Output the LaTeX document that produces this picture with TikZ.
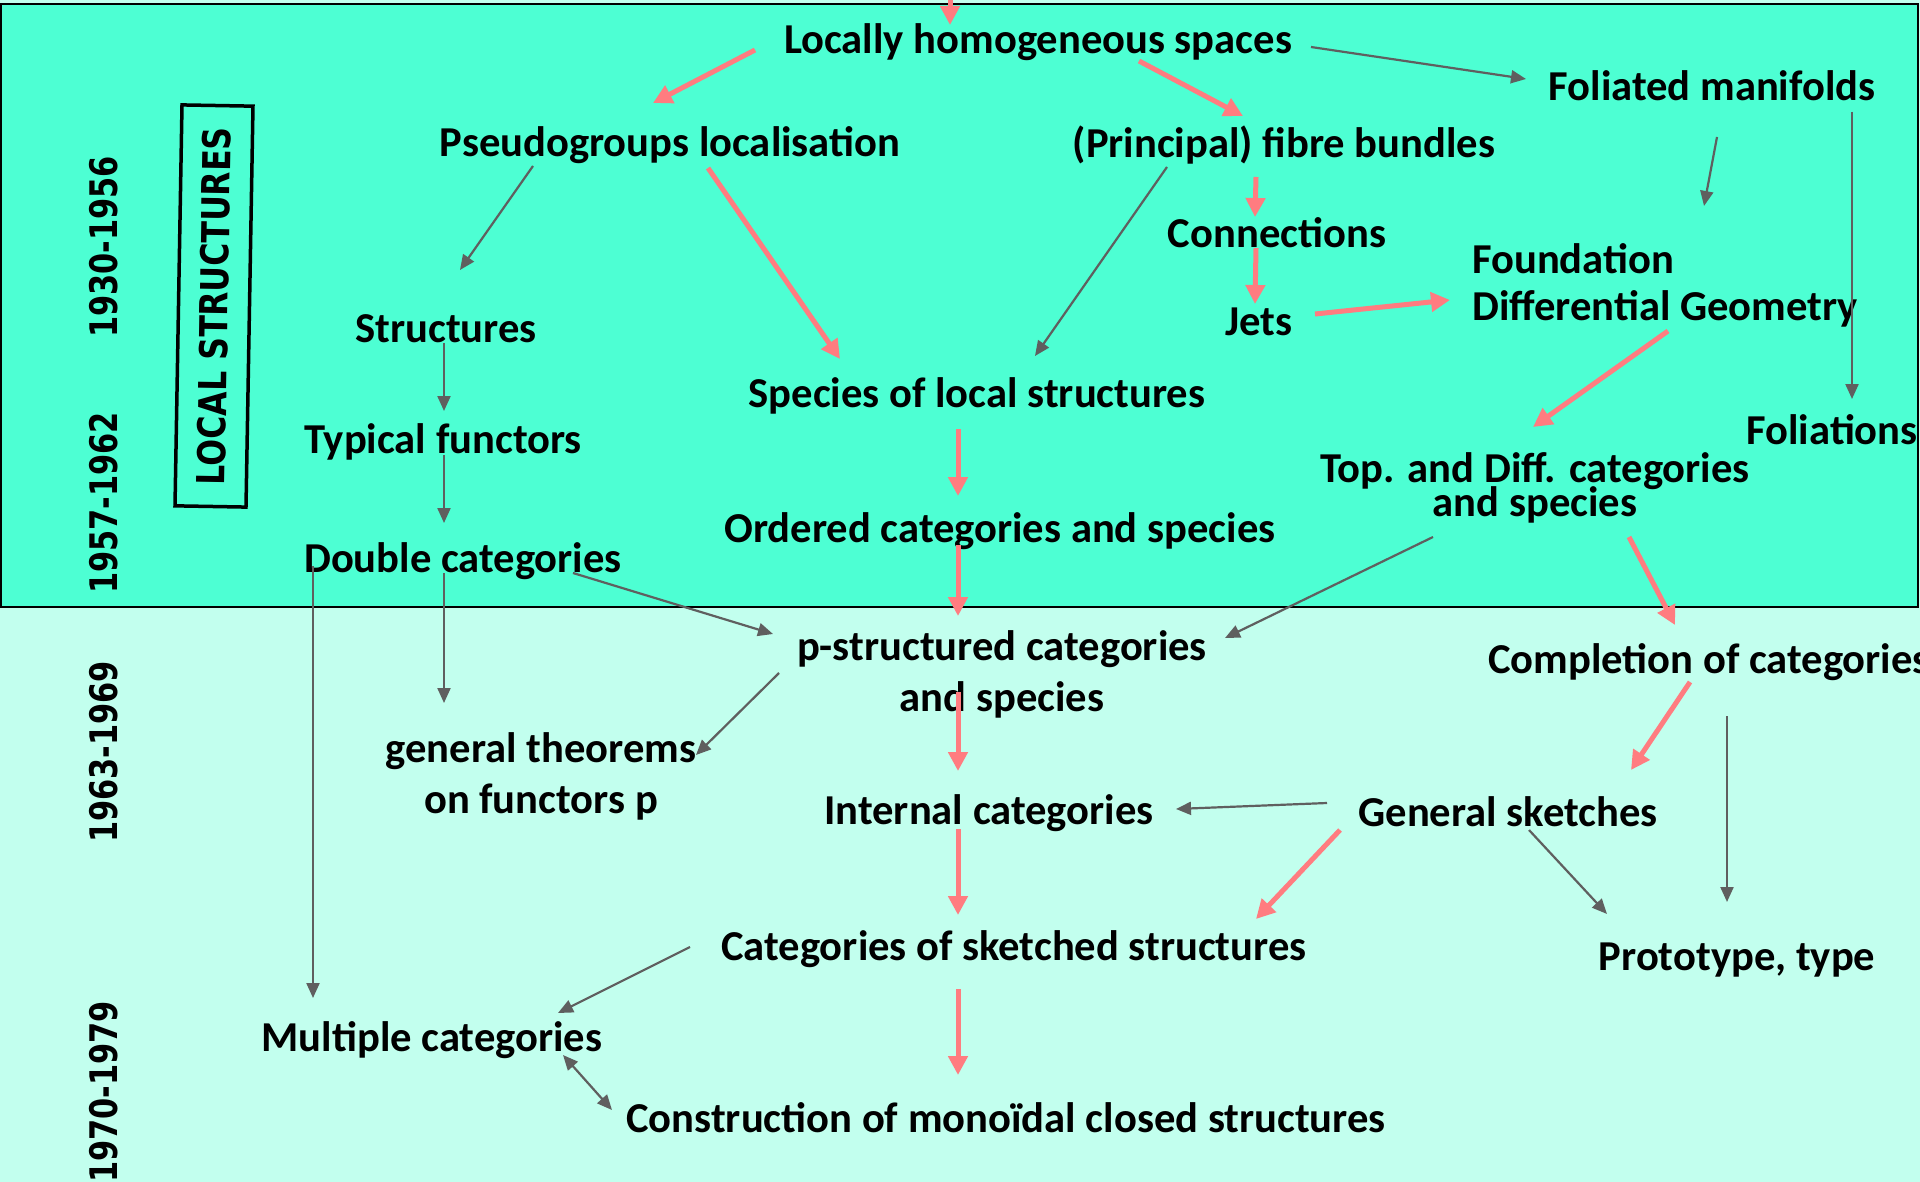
\documentclass[tikz,border=0pt]{standalone}
\usepackage{fontspec}
\setmainfont{Carlito}
\newfontfamily\yrfont{DejaVu Sans}
\usetikzlibrary{arrows.meta,calc}
\definecolor{bgLow}{HTML}{C2FFEE}
\definecolor{bgTop}{HTML}{4DFFD3}
\definecolor{hotArr}{HTML}{FF7C80}
\definecolor{dimArr}{HTML}{5F5F5F}
\tikzset{
  lbl/.style={font=\bfseries\fontsize{42.6}{51}\selectfont, inner sep=0pt,
              align=center},
  yr/.style={font=\yrfont\bfseries\fontsize{38}{40}\selectfont, rotate=90,
             xscale=0.8, inner sep=0pt},
  % thick salmon arrows: the main line of descent
  flow/.style={-{Triangle[length=19pt, width=19pt]}, line width=5pt,
               draw=hotArr, fill=hotArr},
  % thin grey arrows: side influences
  aside/.style={-{Triangle[length=15pt, width=13pt]}, line width=2.2pt,
                draw=dimArr, fill=dimArr},
}

\begin{document}
\begin{tikzpicture}[x=1pt, y=-1pt]

%% ── the two bands ────────────────────────────────────────────────────────
\fill[bgLow] (0,0) rectangle (1920,1182);
\useasboundingbox (0,0) rectangle (1920,1182);
\draw[fill=bgTop, line width=2pt] (0.5,4) rectangle (1918,607);

%% ── periods, left ────────────────────────────────────────────────────────
\node[yr] (y1) at (104,247) {1930-1956};
\node[yr] (y2) at (104,503) {1957-1962};
\node[yr] (y3) at (104,752) {1963-1969};
\node[yr] (y4) at (104,1092) {1970-1979};
\node[draw, line width=3.5pt, rotate=89, xscale=0.82, minimum width=489pt,
      minimum height=71pt, inner sep=0pt,
      font=\yrfont\bfseries\fontsize{38.5}{40}\selectfont] (locs) at (214,306)
  {LOCAL STRUCTURES};

%% ── local structures ─────────────────────────────────────────────────────
\node[lbl] (loc)     at (1038,42)  {Locally homogeneous spaces};
\node[lbl] (pseudo)  at (670,145)  {Pseudogroups localisation};
\node[lbl] (fibre)   at (1284,145) {(Principal) fibre bundles};
\node[lbl] (folm)    at (1712,86)  {Foliated manifolds};
\node[lbl] (conn)    at (1277,233) {Connections};
\node[lbl, anchor=west, align=left, font=\bfseries\fontsize{42.6}{47}\selectfont]
  (found) at (1472,285) {Foundation\\Differential Geometry};
\node[lbl] (jets)    at (1259,322) {Jets};
\node[lbl] (struc)   at (446,329)  {Structures};
\node[lbl] (species) at (977,396)  {Species of local structures};
\node[lbl] (typf)    at (443,442)  {Typical functors};
\node[lbl] (folns)   at (1832,430) {Foliations};
\node[lbl] (topdiff) at (1535,488) {Top. and Diff. categories\\[-17pt]and species};
\node[lbl] (ordered) at (1000,531) {Ordered categories and species};
\node[lbl] (dbl)     at (463,561)  {Double categories};

%% ── categories ───────────────────────────────────────────────────────────
\node[lbl] (pstr)    at (1002,674) {p-structured categories\\and species};
\node[lbl, anchor=west] (compl) at (1488,662) {Completion of categories};
\node[lbl] (genthm)  at (541,776)  {general theorems\\on functors p};
\node[lbl] (intcat)  at (989,813)  {Internal categories};
\node[lbl] (gensk)   at (1508,812) {General sketches};
\node[lbl] (catsk)   at (1014,949) {Categories of sketched structures};
\node[lbl] (proto)   at (1737,960) {Prototype, type};
\node[lbl] (mult)    at (432,1040) {Multiple categories};
\node[lbl] (constr)  at (1006,1118) {Construction of monoïdal closed structures};

\coordinate (above) at (950,-20);

%% ── main line ────────────────────────────────────────────────────────────
\draw[flow] (above) -- ($(loc)+(-88,-17)$);
\draw[flow] ($(loc)+(-283,8)$) -- ($(pseudo)+(-17,-42)$);
\draw[flow] ($(loc)+(101,19)$) -- ($(fibre)+(-41,-29)$);
\draw[flow] ($(pseudo)+(38,23)$) -- ($(species)+(-137,-37)$);
\draw[flow] ($(fibre)+(-28,32)$) -- ($(conn)+(-22,-16)$);
\draw[flow] ($(conn)+(-21,15)$) -- ($(jets)+(-4,-18)$);
\draw[flow] ($(jets)+(56,-8)$) -- ($(found.west)+(-22,15)$);
\draw[flow] ($(found.west)+(196,46)$) -- ($(topdiff)+(-2,-61)$);
\draw[flow] ($(species)+(-19,33)$) -- ($(ordered)+(-42,-35)$);
\draw[flow] ($(ordered)+(-42,14)$) -- ($(pstr)+(-44,-58)$);
\draw[flow] ($(pstr)+(-44,18)$) -- ($(intcat)+(-31,-42)$);
\draw[flow] ($(intcat)+(-31,16)$) -- ($(catsk)+(-56,-34)$);
\draw[flow] ($(catsk)+(-56,40)$) -- ($(constr)+(-48,-43)$);
\draw[flow] ($(topdiff)+(94,49)$) -- ($(compl.west)+(187,-37)$);
\draw[flow] ($(compl.west)+(202,20)$) -- ($(gensk)+(123,-42)$);
\draw[flow] ($(gensk)+(-168,18)$) -- ($(catsk)+(242,-30)$);

%% ── side influences ──────────────────────────────────────────────────────
\draw[aside] ($(loc)+(273,5)$) -- ($(folm)+(-186,-7)$);
\draw[aside] ($(pseudo)+(-137,21)$) -- ($(struc)+(14,-59)$);
\draw[aside] ($(fibre)+(-117,22)$) -- ($(species)+(58,-40)$);
\draw[aside] ($(folm)+(5,51)$) -- ($(found.west)+(232,-79)$);
\draw[aside] ($(folm)+(140,26)$) -- ($(folns)+(20,-31)$);
\draw[aside] ($(struc)+(-2,14)$) -- ($(typf)+(1,-31)$);
\draw[aside] ($(typf)+(1,13)$) -- ($(dbl)+(-19,-38)$);
\draw[aside] ($(dbl)+(110,12)$) -- ($(pstr)+(-229,-40)$);
\draw[aside] ($(dbl)+(-19,12)$) -- ($(genthm)+(-97,-73)$);
\draw[aside] ($(dbl)+(-150,5)$) -- ($(mult)+(-119,-42)$);
\draw[aside] ($(pstr)+(-223,-1)$) -- ($(genthm)+(155,-21)$);
\draw[aside] ($(topdiff)+(-102,49)$) -- ($(pstr)+(223,-36)$);
\draw[aside] ($(gensk)+(-181,-9)$) -- ($(intcat)+(187,-4)$);
\draw[aside] ($(gensk)+(21,18)$) -- ($(proto)+(-130,-46)$);
\draw[aside] ($(compl.west)+(239,54)$) -- ($(proto)+(-10,-58)$);
\draw[aside] ($(catsk)+(-324,-2)$) -- ($(mult)+(126,-27)$);
\draw[aside, {Triangle[length=15pt, width=13pt]}-{Triangle[length=15pt, width=13pt]}]
  ($(mult)+(131,15)$) -- ($(constr)+(-394,-8)$);

\end{tikzpicture}
\end{document}
